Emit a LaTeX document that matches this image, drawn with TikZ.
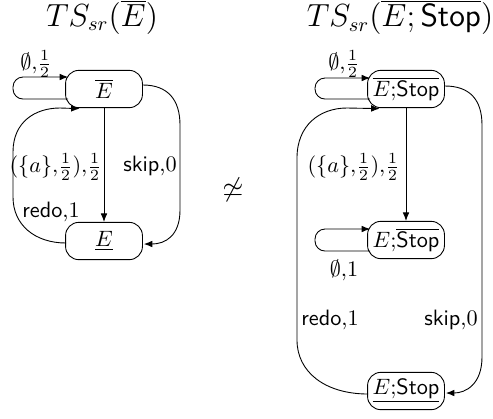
\documentclass[tikz,border=0pt]{standalone}
\usetikzlibrary{arrows.meta,calc}
\tikzset{
  state/.style={draw, rounded corners=6pt, minimum width=34.6pt, minimum height=16.8pt, inner sep=1pt, line width=0.4pt},
  arr/.style={line width=0.4pt, -{Latex[length=3.8pt,width=3pt]}},
  lbl/.style={inner sep=0pt},
  ttl/.style={inner sep=0pt, font=\fontsize{13.5}{16}\selectfont}
}
\begin{document}
\begin{tikzpicture}[x=0.45pt,y=-0.45pt]
\useasboundingbox (0,0) rectangle (493,418);
% titles
\node[ttl] (t1) at (102,17) {$TS_{sr}(\overline{E})$};
\node[ttl] (t2) at (400,17) {$TS_{sr}(\overline{E;\mathsf{Stop}})$};
\node[lbl, font=\large] (neq) at (233,190) {$\not\simeq$};
% left diagram
\node[state] (T) at (104,89) {$\overline{E}$};
\node[state] (B) at (104,241) {$\underline{E}$};
\coordinate (l1) at (13,99);
\coordinate (l2) at (13,77);
\draw[arr, rounded corners=4.5pt] ($(T.west)+(3,10)$) -- (l1) -- (l2) -- ($(T.west)+(3,-12)$);
\node[lbl] (lt) at (36,64) {$\emptyset{,}\frac{1}{2}$};
\draw[arr] (T) -- (B);
\node[lbl, anchor=east] (la) at (102,167) {$(\{a\}{,}\frac{1}{2}){,}\frac{1}{2}$};
\draw[arr] ($(T.east)+(0,-4)$) .. controls (168,85) and (180,100) .. (180,125) -- (180,210) .. controls (180,236) and (165,244) .. ($(B.east)+(1,3)$);
\node[lbl] (ls) at (150,166) {\textsf{skip},$0$};
\draw[arr] ($(B.west)+(1,2)$) .. controls (35,243) and (13,225) .. (13,197) -- (13,152) .. controls (13,122) and (35,108) .. (60,108) -- ($(T.south west)+(14.5,0.5)$);
\node[lbl] (lr) at (51,212) {\textsf{redo},$1$};
% right diagram
\node[state] (RT) at (406,89) {$\overline{E{;}\mathsf{Stop}}$};
\node[state] (RM) at (406,240) {$E{;}\overline{\mathsf{Stop}}$};
\node[state] (RB) at (406,391) {$\underline{E{;}\mathsf{Stop}}$};
\coordinate (r1) at (315,99);
\coordinate (r2) at (315,78);
\draw[arr, rounded corners=4.5pt] ($(RT.west)+(3,10)$) -- (r1) -- (r2) -- ($(RT.west)+(3,-11)$);
\node[lbl] (rlt) at (344,64) {$\emptyset{,}\frac{1}{2}$};
\draw[arr] (RT) -- (RM);
\node[lbl, anchor=east] (rla) at (400,167) {$(\{a\}{,}\frac{1}{2}){,}\frac{1}{2}$};
\coordinate (m1) at (315,251);
\coordinate (m2) at (315,229);
\draw[arr, rounded corners=4.5pt] ($(RM.west)+(3,11)$) -- (m1) -- (m2) -- ($(RM.west)+(3,-11)$);
\node[lbl] (rm) at (344,270) {$\emptyset{,}1$};
\draw[arr] ($(RT.east)+(0,-3)$) .. controls (470,86) and (482,100) .. (482,125) -- (482,357) .. controls (482,384) and (466,393) .. ($(RB.east)+(1,2)$);
\node[lbl] (rs) at (451,320) {\textsf{skip},$0$};
\draw[arr] ($(RB.west)+(1,3)$) .. controls (325,394) and (297,372) .. (297,340) -- (297,158) .. controls (297,125) and (320,108) .. (347,108) -- ($(RT.south west)+(12.5,0.5)$);
\node[lbl] (rr) at (330,320) {\textsf{redo},$1$};
\end{tikzpicture}
\end{document}
